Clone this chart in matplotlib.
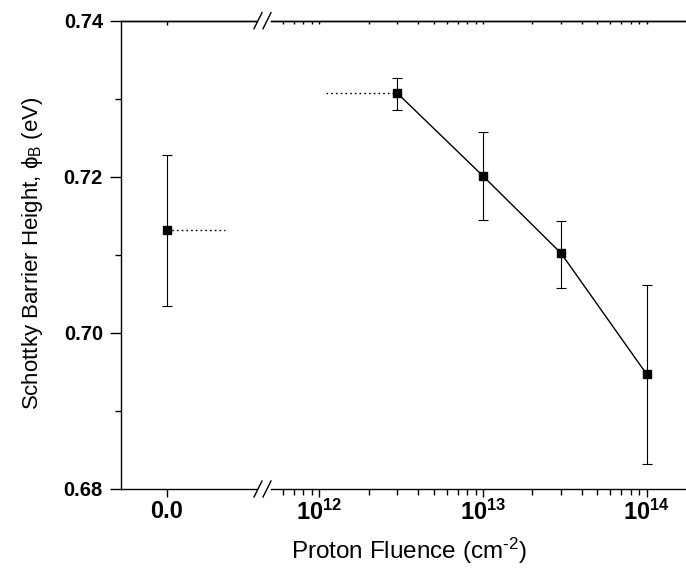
import matplotlib
matplotlib.use('Agg')
import matplotlib.pyplot as plt
from matplotlib.lines import Line2D
from matplotlib.ticker import FixedLocator, FixedFormatter, LogLocator, NullFormatter

plt.rcParams['font.family'] = ['Liberation Sans', 'DejaVu Sans']
plt.rcParams['mathtext.fontset'] = 'custom'
plt.rcParams['mathtext.rm'] = 'Liberation Sans'
plt.rcParams['mathtext.bf'] = 'Liberation Sans:bold'
plt.rcParams['mathtext.it'] = 'Liberation Sans:italic'
plt.rcParams['axes.unicode_minus'] = False

# ---------------- data ----------------
ctrl_x = [0.0]
ctrl_y = [0.7132]
ctrl_err_lo = [0.0098]
ctrl_err_hi = [0.0096]
ctrl_ref_x = [0.0, 1.25]

fluence = [3e12, 1e13, 3e13, 1e14]
barrier = [0.7307, 0.7201, 0.7102, 0.6947]
err_lo = [0.0022, 0.0056, 0.0044, 0.0115]
err_hi = [0.0020, 0.0057, 0.0042, 0.0114]
irr_ref_x = [1.1e12, 3e12]

y_major = [0.68, 0.70, 0.72, 0.74]
y_minor = [0.69, 0.71, 0.73]
y_labels = ['0.68', '0.70', '0.72', '0.74']
left_ticks = [0.0]
left_labels = ['0.0']
right_ticks = [1e12, 1e13, 1e14]
right_labels = [r'$\mathbf{10^{12}}$', r'$\mathbf{10^{13}}$', r'$\mathbf{10^{14}}$']

# ---------------- layout ----------------
W, H = 686, 571
fig = plt.figure(figsize=(W / 100, H / 100), dpi=100)

def fx(px):
    return px / W

def fy(py):
    return 1 - py / H

top_px, bot_px = 20.7, 489.0
axL = fig.add_axes([fx(121), fy(bot_px), fx(256) - fx(121), fy(top_px) - fy(bot_px)])
axR = fig.add_axes([fx(271), fy(bot_px), fx(686) - fx(271), fy(top_px) - fy(bot_px)])

lw = 1.0
for ax in (axL, axR):
    ax.set_ylim(0.68, 0.74)
    for s in ax.spines.values():
        s.set_linewidth(lw)
    ax.spines['right'].set_visible(False)
axR.spines['left'].set_visible(False)

# ---------------- left (control) panel ----------------
axL.set_xlim(-1.0, 1.934)
axL.errorbar(ctrl_x, ctrl_y, yerr=[ctrl_err_lo, ctrl_err_hi], fmt='s', color='black',
             ms=6, elinewidth=0.8, capsize=3.6, capthick=0.8, zorder=3)
axL.plot(ctrl_ref_x, [ctrl_y[0]] * 2, linestyle=(0, (1.2, 2.2)), color='black', lw=1.0)
axL.xaxis.set_major_locator(FixedLocator(left_ticks))
axL.xaxis.set_major_formatter(FixedFormatter(left_labels))
axL.tick_params(axis='x', direction='out', length=6, width=lw, pad=2, labelsize=17)
for t in axL.get_xticklabels():
    t.set_fontweight('bold')

axL.yaxis.set_major_locator(FixedLocator(y_major))
axL.yaxis.set_minor_locator(FixedLocator(y_minor))
axL.yaxis.set_major_formatter(FixedFormatter(y_labels))
axL.tick_params(axis='y', which='major', direction='out', length=8, width=lw, pad=5, labelsize=14.5)
axL.tick_params(axis='y', which='minor', direction='out', length=4, width=lw)
for t in axL.get_yticklabels():
    t.set_fontweight('bold')

secL = axL.secondary_xaxis('top')
secL.xaxis.set_major_locator(FixedLocator(left_ticks))
secL.tick_params(axis='x', direction='in', length=3, width=lw, labeltop=False)
secL.spines['top'].set_linewidth(lw)

# ---------------- right (irradiated) panel ----------------
axR.set_xscale('log')
axR.set_xlim(10 ** (12 - (319.3 - 271) / 163.7), 10 ** (14 + (686 - 646.7) / 163.7))
axR.errorbar(fluence, barrier, yerr=[err_lo, err_hi], fmt='-s', color='black',
             ms=6, lw=1.0, elinewidth=0.8, capsize=3.6, capthick=0.8, zorder=3)
axR.plot(irr_ref_x, [barrier[0]] * 2, linestyle=(0, (1.2, 2.2)), color='black', lw=1.0)
axR.xaxis.set_major_locator(FixedLocator(right_ticks))
axR.xaxis.set_major_formatter(FixedFormatter(right_labels))
axR.xaxis.set_minor_locator(LogLocator(base=10, subs=range(2, 10), numticks=20))
axR.xaxis.set_minor_formatter(NullFormatter())
axR.tick_params(axis='x', which='major', direction='out', length=6, width=lw, pad=2, labelsize=17)
axR.tick_params(axis='x', which='minor', direction='out', length=4, width=lw)
axR.tick_params(axis='y', left=False, right=False, labelleft=False)

secR = axR.secondary_xaxis('top')
secR.xaxis.set_major_locator(FixedLocator(right_ticks))
secR.xaxis.set_minor_locator(LogLocator(base=10, subs=range(2, 10), numticks=20))
secR.xaxis.set_minor_formatter(NullFormatter())
secR.tick_params(axis='x', which='both', direction='in', length=2.5, width=lw, labeltop=False)
secR.spines['top'].set_linewidth(lw)

# ---------------- break marks ----------------
for ybase in (top_px, bot_px):
    for x0 in (254, 263):
        fig.add_artist(Line2D([fx(x0), fx(x0 + 8)], [fy(ybase + 8), fy(ybase - 8)],
                              transform=fig.transFigure, color='black', lw=1.0))

# ---------------- labels ----------------
fig.text(fx(409), fy(551), 'Proton Fluence (cm$^{\\mathregular{\u20102}}$)', ha='center', va='center',
         fontsize=17.5)
fig.text(fx(33), fy(253), r'Schottky Barrier Height, $\mathregular{\phi_B}$ (eV)', ha='center',
         va='center', rotation=90, fontsize=16)

fig.savefig('out.png', dpi=100)
